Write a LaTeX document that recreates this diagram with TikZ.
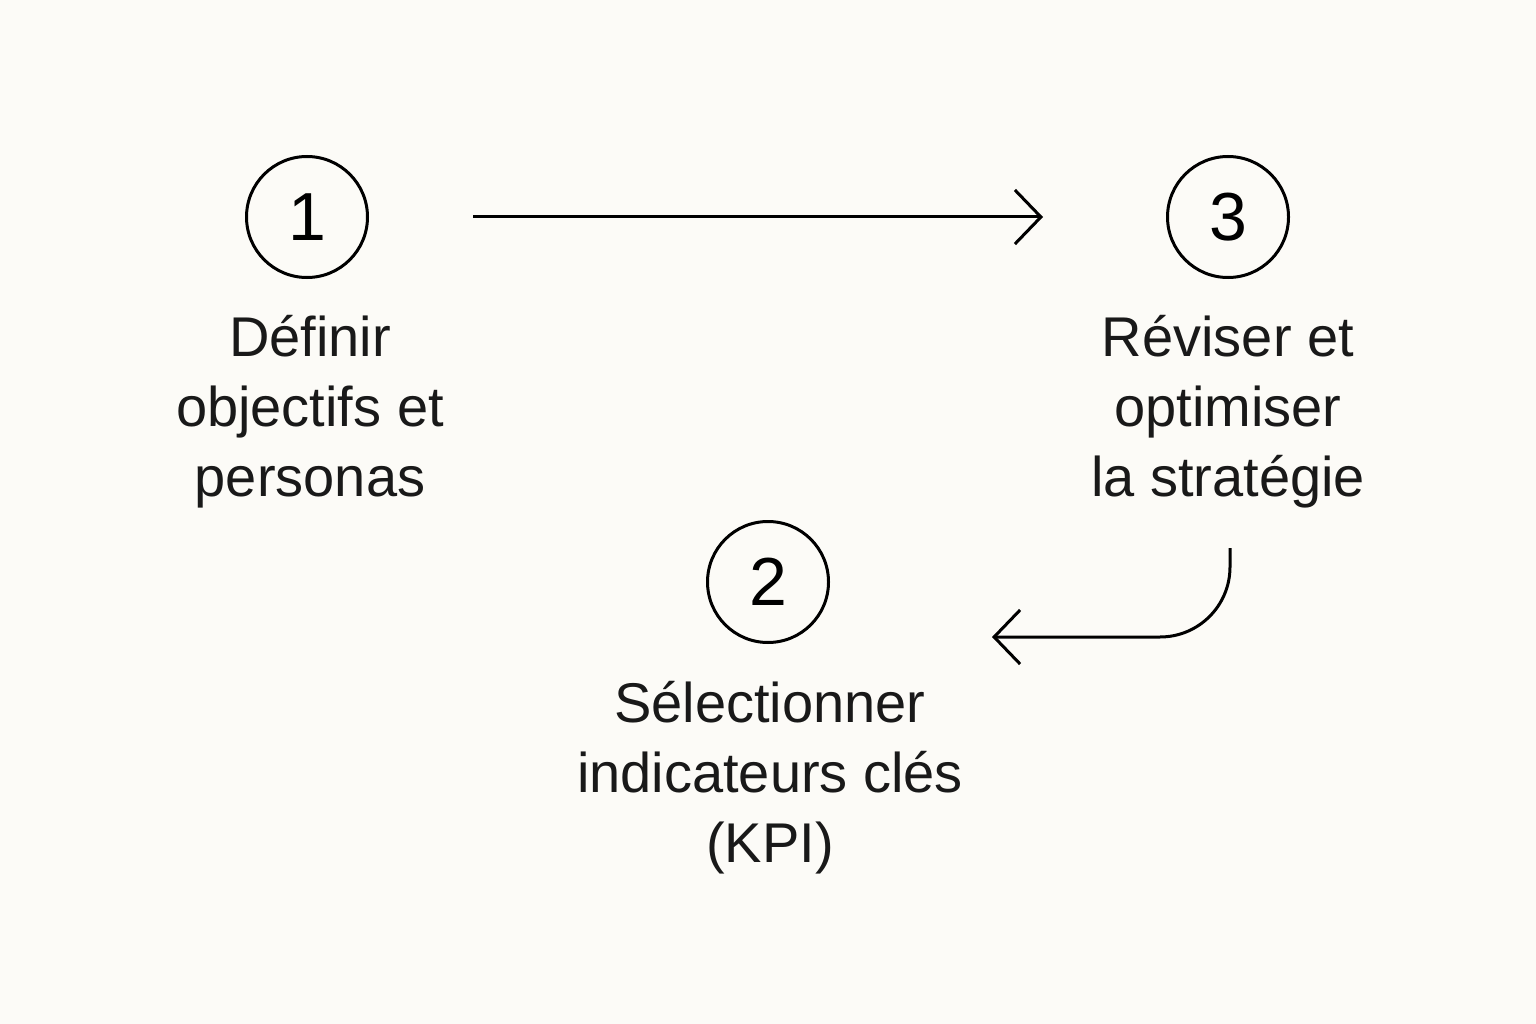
\documentclass[tikz,border=0pt]{standalone}
\usepackage{fontspec}
\setmainfont{Liberation Sans}
\usetikzlibrary{arrows.meta}
\begin{document}
\begin{tikzpicture}[x=1pt,y=-1pt,
  num/.style={circle,draw,line width=3pt,minimum size=121pt,inner sep=0pt,font=\fontsize{68}{68}\selectfont},
  lbl/.style={align=center,font=\fontsize{56}{70}\selectfont,text=black!90},
  conn/.style={line width=3pt,-{Straight Barb[length=26pt,width=54pt,line width=3pt]}}]
\fill[fill={rgb,255:red,252;green,251;blue,247}] (0,0) rectangle (1536,1024);
\useasboundingbox (0,0) rectangle (1536,1024);
\node[num] (n1) at (307,217) {1};
\node[num] (n3) at (1228,217) {3};
\node[num] (n2) at (768,582) {2};
\node[lbl,anchor=north] (t1) at (310,312) {Définir\\objectifs et\\personas};
\node[lbl,anchor=north] (t3) at (1228,312) {Réviser et\\optimiser\\la stratégie};
\node[lbl,anchor=north] (t2) at (770,678) {Sélectionner\\indicateurs clés\\(KPI)};
\coordinate (a1) at (473,217);
\coordinate (b1) at (1043,217);
\draw[conn] (a1) -- (b1);
\coordinate (a2) at (1230,548);
\coordinate (b2) at (992,637);
\draw[conn] (a2) -- (1230,567) arc[start angle=0,end angle=90,radius=70] -- (b2);
\end{tikzpicture}
\end{document}
